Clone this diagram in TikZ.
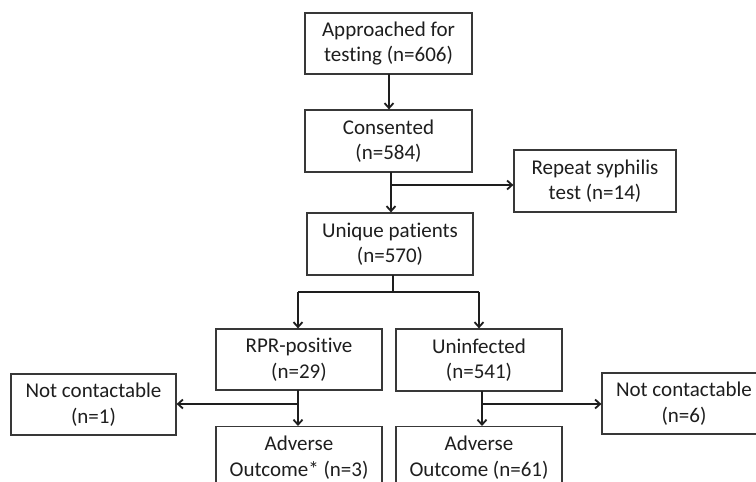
\documentclass[tikz,border=0pt]{standalone}
\usepackage{fontspec}
\setmainfont{Carlito}[Ligatures=NoCommon]
\usetikzlibrary{arrows.meta}
\definecolor{txt}{HTML}{1E1E1E}
\definecolor{bord}{HTML}{383838}
\begin{document}
\begin{tikzpicture}[x=1pt,y=-1pt,
  box/.style={draw=bord,line width=1.2pt,rectangle,align=center,inner sep=1pt,
    text=txt,font=\fontsize{21}{25.5}\selectfont},
  arr/.style={draw=txt,line width=2.3pt,-{Straight Barb[length=5pt,width=9pt,line width=1.8pt]}},
  ln/.style={draw=txt,line width=2.3pt}]
\useasboundingbox (0,0) rectangle (756,482);
\clip (0,0) rectangle (756,482);
\fill[white] (0,0) rectangle (756,482);
\node[box,minimum width=167pt,minimum height=61pt] (app) at (388.5,43.5) {Approached for\\testing (n=606)};
\node[box,minimum width=167pt,minimum height=62pt] (con) at (388.5,141) {Consented\\(n=584)};
\node[box,minimum width=162pt,minimum height=62pt] (rep) at (595,181) {Repeat syphilis\\test (n=14)};
\node[box,minimum width=166pt,minimum height=62pt] (uni) at (390,244) {Unique patients\\(n=570)};
\node[box,minimum width=166pt,minimum height=61pt] (rpr) at (299,359.5) {RPR-positive\\(n=29)};
\node[box,minimum width=166pt,minimum height=62pt] (unf) at (479,360) {Uninfected\\(n=541)};
\node[box,minimum width=165pt,minimum height=61pt] (nc1) at (93.5,404.5) {Not contactable\\(n=1)};
\node[box,minimum width=164pt,minimum height=61pt] (nc2) at (684,403.5) {Not contactable\\(n=6)};
\node[box,minimum width=166pt,minimum height=62pt,anchor=north] (adv1) at (299,426) {Adverse\\Outcome* (n=3)};
\node[box,minimum width=166pt,minimum height=62pt,anchor=north] (adv2) at (479,426) {Adverse\\Outcome (n=61)};
% connectors
\draw[arr] (389,74) coordinate (a1) -- (a1|-con.north);
\coordinate (c1) at (391,172);
\coordinate (c2) at (391,185);
\draw[arr] (c1) -- (c1|-uni.north);
\draw[arr] (c2) -- (c2-|rep.west);
\coordinate (u1) at (393,275);
\coordinate (u2) at (393,292);
\coordinate (bl) at (298,292);
\coordinate (br) at (479,292);
\draw[ln] (u1) -- (u2);
\draw[ln] (bl) -- (br);
\draw[arr] (bl) -- (bl|-rpr.north);
\draw[arr] (br) -- (br|-unf.north);
\coordinate (r1) at (298,390);
\coordinate (r2) at (298,404);
\draw[arr] (r1) -- (r1|-adv1.north);
\draw[arr] (r2) -- (r2-|nc1.east);
\coordinate (f1) at (482,391);
\coordinate (f2) at (482,404);
\draw[arr] (f1) -- (f1|-adv2.north);
\draw[arr] (f2) -- (f2-|nc2.west);
\end{tikzpicture}
\end{document}
